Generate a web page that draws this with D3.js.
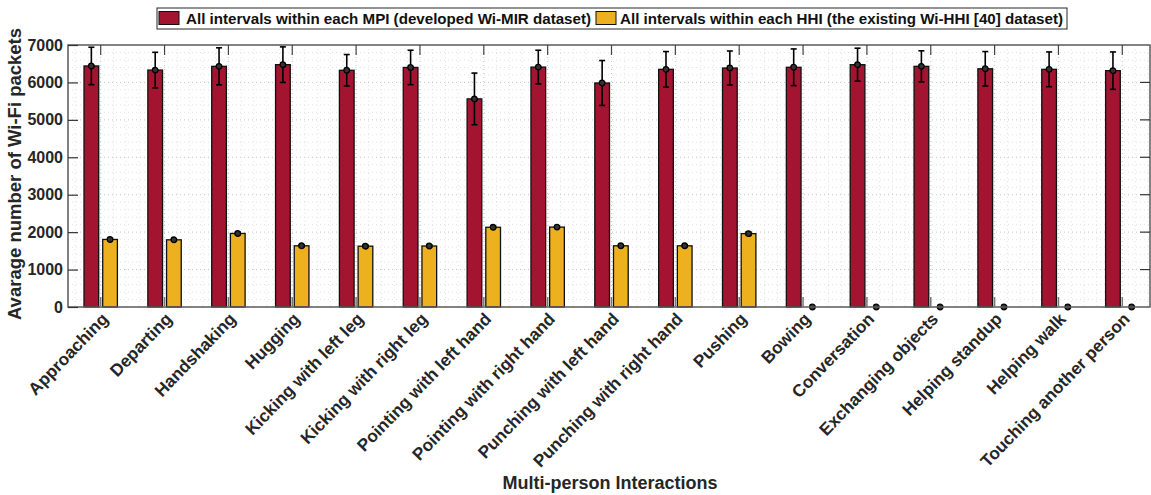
<!DOCTYPE html>
<html>
<head>
<meta charset="utf-8">
<script src="https://cdn.jsdelivr.net/npm/d3@7"></script>
<style>
  body { margin: 0; background: #fff; }
  svg text { font-family: "Liberation Sans", Arial, sans-serif; }
</style>
</head>
<body>
<div id="chart-area"></div>
<script>
// chart data
let categories = ["Approaching", "Departing", "Handshaking", "Hugging", "Kicking with left leg",
  "Kicking with right leg", "Pointing with left hand", "Pointing with right hand",
  "Punching with left hand", "Punching with right hand", "Pushing", "Bowing", "Conversation",
  "Exchanging objects", "Helping standup", "Helping walk", "Touching another person"];

let mpiMean = [6440, 6330, 6430, 6475, 6325, 6400, 5560, 6410, 5985, 6350, 6385, 6405, 6475, 6430, 6365, 6350, 6315];
let mpiErr  = [500, 475, 495, 475, 420, 460, 690, 450, 600, 475, 455, 490, 440, 415, 460, 465, 500];

let hhiMean = [1805, 1795, 1965, 1635, 1625, 1630, 2130, 2135, 1635, 1635, 1960, 0, 0, 0, 0, 0, 0];
let hhiErr  = [25, 30, 35, 25, 35, 30, 25, 25, 25, 25, 45, 0, 0, 0, 0, 0, 0];

let series = ["MPI", "HHI"];
let legendLabels = ["All intervals within each MPI (developed Wi-MIR dataset)",
  "All intervals within each HHI (the existing Wi-HHI [40] dataset)"];
let yTicks = [0, 1000, 2000, 3000, 4000, 5000, 6000, 7000];

let width = 1151, height = 495;
let mLeft = 68, mRight = 1150, mTop = 45, mBottom = 307;
let colors = {MPI: "#A2142F", HHI: "#EDB120"};

let rows = categories.map((c, i) => ({
  name: c,
  vals: [
    {key: "MPI", mean: mpiMean[i], err: mpiErr[i]},
    {key: "HHI", mean: hhiMean[i], err: hhiErr[i]}
  ]
}));

let svg = d3.select("#chart-area").append("svg")
  .attr("width", width).attr("height", height);

let x0 = d3.scalePoint().domain(categories).range([100.7, 1122.3]);
let x1 = d3.scaleBand().domain(series).range([-16.7, 16.7]).paddingInner(0.214);
let y = d3.scaleLinear().domain([0, 7000]).range([mBottom, mTop]);

// grid (dotted, minor + major)
let step = x0.step();
let gridX = [];
for (let k = -2; k <= categories.length * 5 + 2; k++) {
  let gx = x0(categories[0]) + (k * step) / 5;
  if (gx > mLeft + 1 && gx < mRight - 1) gridX.push({x: gx, major: k % 5 === 0});
}
let gridY = [];
for (let v = 200; v < 7000; v += 200) gridY.push({v: v, major: v % 1000 === 0});

let grid = svg.append("g").attr("class", "grid");
grid.selectAll("line.gy").data(gridY).enter().append("line")
  .attr("x1", mLeft).attr("x2", mRight)
  .attr("y1", d => y(d.v)).attr("y2", d => y(d.v))
  .attr("stroke", d => d.major ? "#c4c4c4" : "#e3e3e3")
  .attr("stroke-dasharray", "1,3");
grid.selectAll("line.gx").data(gridX).enter().append("line")
  .attr("y1", mTop).attr("y2", mBottom)
  .attr("x1", d => d.x).attr("x2", d => d.x)
  .attr("stroke", d => d.major ? "#c4c4c4" : "#e3e3e3")
  .attr("stroke-dasharray", "1,3");

// bars
let groups = svg.selectAll("g.group").data(rows).enter().append("g")
  .attr("class", "group")
  .attr("transform", d => "translate(" + x0(d.name) + ",0)");

groups.selectAll("rect").data(d => d.vals).enter().append("rect")
  .attr("x", d => x1(d.key))
  .attr("width", x1.bandwidth())
  .attr("y", d => y(d.mean))
  .attr("height", d => y(0) - y(d.mean))
  .attr("fill", d => colors[d.key])
  .attr("stroke", "#111")
  .attr("stroke-width", 1.3);

// error bars
let eb = groups.selectAll("g.err").data(d => d.vals).enter().append("g")
  .attr("class", "err")
  .attr("transform", d => "translate(" + (x1(d.key) + x1.bandwidth() / 2) + ",0)");

eb.filter(d => d.err > 0).append("line")
  .attr("y1", d => y(d.mean + d.err)).attr("y2", d => y(d.mean - d.err))
  .attr("stroke", "#000").attr("stroke-width", 1.6);
eb.filter(d => d.err > 0).selectAll("line.cap")
  .data(d => [d.mean + d.err, d.mean - d.err]).enter().append("line")
  .attr("x1", -3).attr("x2", 3)
  .attr("y1", v => y(v)).attr("y2", v => y(v))
  .attr("stroke", "#000").attr("stroke-width", 1.6);
eb.append("circle")
  .attr("cy", d => y(d.mean)).attr("r", 2.8)
  .attr("fill", "#333").attr("stroke", "#000").attr("stroke-width", 1.3);

// frame and ticks
let frame = svg.append("g").attr("class", "frame");
frame.append("rect")
  .attr("x", mLeft).attr("y", mTop)
  .attr("width", mRight - mLeft).attr("height", mBottom - mTop)
  .attr("fill", "none").attr("stroke", "#5a5a5a").attr("stroke-width", 1.5);

frame.selectAll("line.tx").data(categories).enter().append("line")
  .attr("x1", d => x0(d)).attr("x2", d => x0(d))
  .attr("y1", mBottom).attr("y2", mBottom - 10)
  .attr("stroke", "#777").attr("stroke-width", 1.5);
frame.selectAll("line.txt").data(categories).enter().append("line")
  .attr("x1", d => x0(d)).attr("x2", d => x0(d))
  .attr("y1", mTop).attr("y2", mTop + 10)
  .attr("stroke", "#444").attr("stroke-width", 1.2);
frame.selectAll("line.tyr").data(yTicks.slice(1, -1)).enter().append("line")
  .attr("x1", mRight).attr("x2", mRight - 10)
  .attr("y1", d => y(d)).attr("y2", d => y(d))
  .attr("stroke", "#333").attr("stroke-width", 1.2);

// y axis
let yAxis = d3.axisLeft(y).tickValues(yTicks).tickFormat(d3.format("d"))
  .tickSizeInner(-10).tickSizeOuter(0).tickPadding(5);
let ya = svg.append("g")
  .attr("transform", "translate(" + mLeft + ",0)")
  .call(yAxis);
ya.select(".domain").remove();
ya.selectAll(".tick line").attr("stroke", "#333").attr("stroke-width", 1.2);
ya.selectAll(".tick text")
  .attr("font-size", 16).attr("font-weight", "bold").attr("fill", "#262626")
  .attr("font-family", "Liberation Sans, Arial, sans-serif");

// x axis labels
let xa = svg.append("g")
  .attr("transform", "translate(0," + mBottom + ")")
  .call(d3.axisBottom(x0).tickSize(0).tickPadding(0));
xa.select(".domain").remove();
xa.selectAll(".tick text")
  .attr("font-size", 17.2).attr("font-weight", "bold").attr("fill", "#262626")
  .attr("font-family", "Liberation Sans, Arial, sans-serif")
  .attr("text-anchor", "end")
  .attr("dy", 0)
  .attr("transform", "translate(8,13) rotate(-46)");

// axis titles
svg.append("text")
  .attr("transform", "translate(21," + ((mTop + mBottom) / 2 - 2) + ") rotate(-90)")
  .attr("text-anchor", "middle")
  .attr("font-size", 18.5).attr("font-weight", "bold").attr("fill", "#262626")
  .text("Avarage number of Wi-Fi packets");

svg.append("text")
  .attr("x", 610).attr("y", 489)
  .attr("text-anchor", "middle")
  .attr("font-size", 18).attr("font-weight", "bold").attr("fill", "#262626")
  .text("Multi-person Interactions");

// legend
let legend = svg.append("g").attr("class", "legend");
legend.append("rect")
  .attr("x", 157).attr("y", 8).attr("width", 910).attr("height", 21)
  .attr("fill", "#fff").attr("stroke", "#262626").attr("stroke-width", 1);

let legendItems = [
  {key: "MPI", label: legendLabels[0], sx: 159, tx: 186, tw: 405},
  {key: "HHI", label: legendLabels[1], sx: 596, tx: 620, tw: 443}
];
legend.selectAll("rect.sw").data(legendItems).enter().append("rect")
  .attr("x", d => d.sx).attr("y", 11.5).attr("width", 20).attr("height", 13)
  .attr("fill", d => colors[d.key]).attr("stroke", "#111").attr("stroke-width", 1);
legend.selectAll("text").data(legendItems).enter().append("text")
  .attr("x", d => d.tx).attr("y", 24)
  .attr("textLength", d => d.tw).attr("lengthAdjust", "spacingAndGlyphs")
  .attr("font-size", 15).attr("font-weight", "bold").attr("fill", "#111")
  .text(d => d.label);
</script>
</body>
</html>
